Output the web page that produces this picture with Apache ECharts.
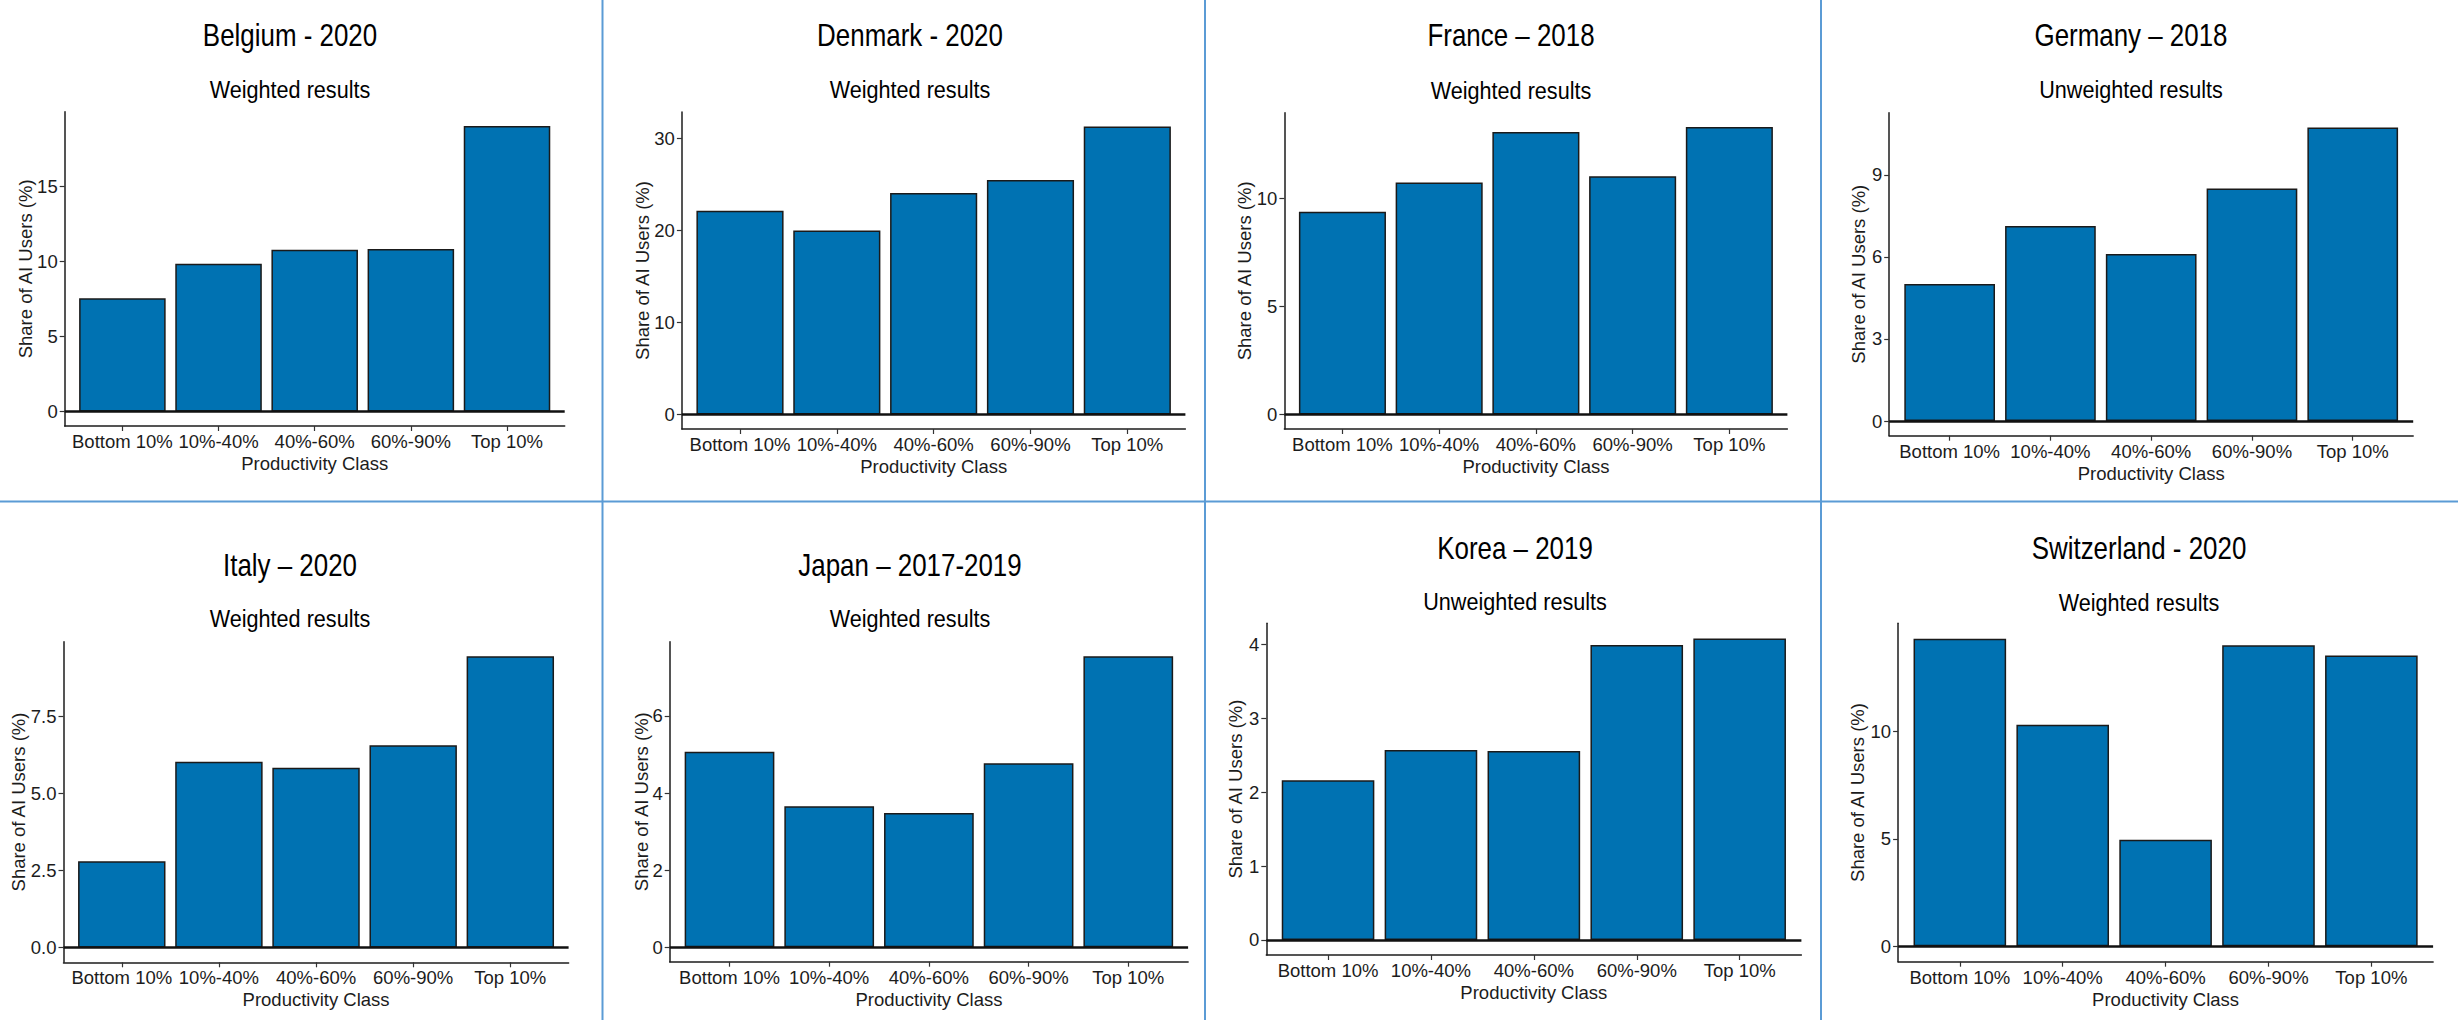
<!DOCTYPE html>
<html>
<head>
<meta charset="utf-8">
<title>Share of AI users by productivity class</title>
<script src="https://cdn.jsdelivr.net/npm/echarts@6/dist/echarts.min.js"></script>
<style>
  html, body { margin: 0; padding: 0; background: #ffffff; }
  #chart { width: 2458px; height: 1020px; }
</style>
</head>
<body>
<div id="chart"></div>
<script>
// ---- Data -------------------------------------------------------------
const categories = ['Bottom 10%', '10%-40%', '40%-60%', '60%-90%', 'Top 10%'];

const belgium     = [7.56, 9.86, 10.80, 10.85, 19.05];
const denmark     = [22.16, 20.02, 24.11, 25.52, 31.34];
const france      = [9.39, 10.74, 13.08, 11.03, 13.31];
const germany     = [5.01, 7.13, 6.11, 8.50, 10.74];
const italy       = [2.80, 6.02, 5.83, 6.56, 9.44];
const japan       = [5.07, 3.66, 3.48, 4.77, 7.55];
const korea       = [2.16, 2.57, 2.555, 3.99, 4.08];
const switzerland = [14.30, 10.30, 4.95, 14.00, 13.52];

const belgiumTicks     = [0, 5, 10, 15];
const denmarkTicks     = [0, 10, 20, 30];
const franceTicks      = [0, 5, 10];
const germanyTicks     = [0, 3, 6, 9];
const italyTicks       = [0, 2.5, 5, 7.5];
const japanTicks       = [0, 2, 4, 6];
const koreaTicks       = [0, 1, 2, 3, 4];
const switzerlandTicks = [0, 5, 10];

const panelTitles = ['Belgium - 2020', 'Denmark - 2020', 'France \u2013 2018', 'Germany \u2013 2018',
                     'Italy \u2013 2020', 'Japan \u2013 2017-2019', 'Korea \u2013 2019', 'Switzerland - 2020'];
const panelSubtitles = ['Weighted results', 'Weighted results', 'Weighted results', 'Unweighted results',
                        'Weighted results', 'Weighted results', 'Unweighted results', 'Weighted results'];
const panelValues = [belgium, denmark, france, germany, italy, japan, korea, switzerland];
const panelTicks = [belgiumTicks, denmarkTicks, franceTicks, germanyTicks,
                    italyTicks, japanTicks, koreaTicks, switzerlandTicks];
const tickDecimals = [0, 0, 0, 0, 1, 0, 0, 0];

const xTitle = 'Productivity Class';
const yTitle = 'Share of AI Users (%)';

// ---- Layout (pixels) ----------------------------------------------------
// plot boxes: [left, top, right, bottom]
const boxes = [
  [64.7, 111.7, 564.7, 426.0],
  [681.9, 112.0, 1185.4, 429.0],
  [1284.4, 112.7, 1787.4, 429.0],
  [1889.2, 112.7, 2413.2, 435.7],
  [63.5, 641.7, 568.6, 962.3],
  [669.7, 641.7, 1188.1, 961.7],
  [1266.3, 623.3, 1801.4, 955.0],
  [1898.1, 623.3, 2433.1, 961.7]
];
// heading centres: [x, titleY, subtitleY]
const headings = [
  [290, 35, 89.5], [910, 35, 90], [1511, 35, 90.5], [2131, 35, 90],
  [290, 565, 618.5], [910, 565, 618.5], [1515, 548.5, 602], [2139, 548.5, 602.5]
];
const yNameGaps = [30, 30, 30, 21, 36, 19, 21, 31];

const FONT = '"Liberation Sans", Arial, Helvetica, sans-serif';
const BAR_FILL = '#0072B2';
const INK = '#1c1c1c';
const DIVIDER = '#5B9BD5';

const grids = [], xAxes = [], yAxes = [], series = [], graphics = [];
const positions = categories.map((c, k) => k + 1);

panelValues.forEach((values, i) => {
  const [l, t, r, b] = boxes[i];
  grids.push({ left: l, top: t, width: r - l, height: b - t, outerBoundsMode: 'none', containLabel: false });

  const top = Math.max.apply(null, values);
  const dec = tickDecimals[i];

  xAxes.push({
    type: 'value', gridIndex: i, min: 0.4, max: categories.length + 0.6,
    axisLine: { show: true, onZero: false, lineStyle: { color: INK, width: 1.5 } },
    axisTick: { show: true, customValues: positions, length: 5, lineStyle: { color: '#333', width: 1.2 } },
    axisLabel: {
      customValues: positions, margin: 6, color: INK, fontSize: 18.5, fontFamily: FONT,
      formatter: v => categories[Math.round(v) - 1]
    },
    splitLine: { show: false },
    name: xTitle, nameLocation: 'middle', nameGap: 28, nameMoveOverlap: false,
    nameTextStyle: { color: INK, fontSize: 18.5, fontFamily: FONT }
  });

  yAxes.push({
    type: 'value', gridIndex: i, min: -0.05 * top, max: 1.05 * top,
    axisLine: { show: true, onZero: false, lineStyle: { color: INK, width: 1.5 } },
    axisTick: { show: true, customValues: panelTicks[i], length: 5, lineStyle: { color: '#333', width: 1.2 } },
    axisLabel: {
      customValues: panelTicks[i], margin: 7, color: INK, fontSize: 18.5, fontFamily: FONT,
      formatter: v => v.toFixed(dec)
    },
    splitLine: { show: false },
    name: yTitle, nameLocation: 'middle', nameGap: yNameGaps[i], nameRotate: 90, nameMoveOverlap: false,
    nameTextStyle: { color: INK, fontSize: 18.5, fontFamily: FONT }
  });

  series.push({
    type: 'bar', xAxisIndex: i, yAxisIndex: i,
    data: values.map((v, k) => [positions[k], v]),
    barWidth: '90%',
    itemStyle: { color: BAR_FILL, borderColor: '#1a1a1a', borderWidth: 1.5 },
    markLine: {
      silent: true, symbol: 'none', label: { show: false },
      lineStyle: { color: '#111', width: 2.5, type: 'solid' },
      data: [{ yAxis: 0 }]
    }
  });

  // condensed headings: regular face squeezed horizontally around its centre
  const [hx, ty, sy] = headings[i];
  graphics.push({
    type: 'text', x: hx, y: ty, scaleX: 0.85,
    style: { text: panelTitles[i], fill: '#000', font: '30.5px ' + FONT, align: 'center', verticalAlign: 'middle' }
  });
  graphics.push({
    type: 'text', x: hx, y: sy, scaleX: 0.9,
    style: { text: panelSubtitles[i], fill: '#000', font: '24px ' + FONT, align: 'center', verticalAlign: 'middle' }
  });
});

// panel dividers
[602.5, 1205, 1821].forEach(x => {
  graphics.push({ type: 'line', shape: { x1: x, y1: 0, x2: x, y2: 1020 }, style: { stroke: DIVIDER, lineWidth: 2 } });
});
graphics.push({ type: 'line', shape: { x1: 0, y1: 501.5, x2: 2458, y2: 501.5 }, style: { stroke: DIVIDER, lineWidth: 2 } });

const chart = echarts.init(document.getElementById('chart'), null, { renderer: 'svg' });
chart.setOption({
  animation: false,
  backgroundColor: '#ffffff',
  grid: grids,
  xAxis: xAxes,
  yAxis: yAxes,
  series: series,
  graphic: graphics
});
</script>
</body>
</html>
